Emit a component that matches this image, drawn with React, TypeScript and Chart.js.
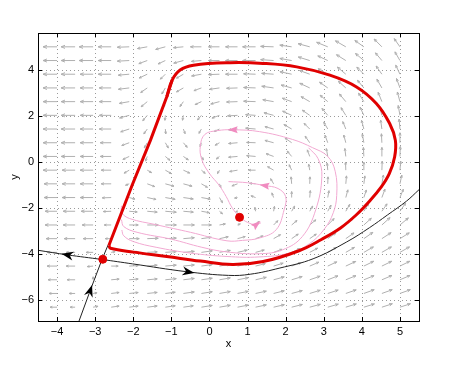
import React, { useEffect, useRef } from 'react';
import { Chart, registerables } from 'chart.js';
Chart.register(...registerables);

const xTicks = [-4, -3, -2, -1, 0, 1, 2, 3, 4, 5];
const yTicks = [-6, -4, -2, 0, 2, 4];

const gridX = [-4, -3.526, -3.053, -2.579, -2.105, -1.632, -1.158, -0.684, -0.211, 0.263, 0.737, 1.211, 1.684, 2.158, 2.632, 3.105, 3.579, 4.053, 4.526, 5.0];
const gridY = [5.0, 4.405, 3.811, 3.216, 2.621, 2.026, 1.432, 0.837, 0.242, -0.353, -0.947, -1.542, -2.137, -2.732, -3.326, -3.921, -4.516, -5.111, -5.705, -6.3];

// direction of each field arrow (degrees, 0 = right, 90 = up), rows top to bottom
const fieldAngle = [
  [180, 180, 180, 180, 182, 190, 195, 185, 180, 180, 180, 180, 178, 172, 165, 158, 150, 145, 135, 125],
  [180, 180, 180, 180, 183, 200, 205, 195, 185, 180, 180, 180, 176, 170, 163, 155, 148, 140, 130, 120],
  [180, 180, 180, 180, 185, 205, 225, 210, 190, 182, 180, 178, 176, 168, 160, 150, 140, 135, 125, 115],
  [180, 180, 180, 180, 187, 215, 240, 210, 200, 188, 182, 178, 172, 165, 155, 145, 138, 130, 120, 110],
  [180, 180, 180, 180, 190, 220, 250, 235, 205, 195, 182, 178, 170, 160, 150, 140, 130, 122, 112, 105],
  [180, 180, 180, 180, 195, 230, 265, 260, 230, 200, 183, 176, 165, 155, 145, 130, 122, 115, 105, 100],
  [180, 180, 180, 180, 198, 235, 275, 290, 240, 205, 185, 175, 165, 150, 135, 120, 112, 105, 98, 95],
  [180, 180, 180, 180, 200, 240, 300, 310, 250, 210, 185, 178, 165, 145, 125, 110, 105, 100, 93, 90],
  [180, 180, 180, 180, 205, 250, 320, 325, 300, 220, 185, 175, 160, 130, 110, 100, 97, 93, 90, 88],
  [180, 180, 180, 180, 210, 330, 330, 335, 320, 240, 190, 180, 150, 115, 100, 95, 92, 90, 88, 85],
  [180, 180, 180, 180, 200, 340, 345, 345, 330, 290, 200, 175, 120, 95, 88, 88, 85, 83, 80, 78],
  [180, 180, 180, 182, 345, 348, 350, 352, 350, 300, 190, 160, 110, 90, 85, 80, 75, 72, 70, 68],
  [180, 180, 180, 182, 355, 355, 355, 355, 350, 320, 200, 100, 80, 60, 60, 62, 60, 58, 55, 55],
  [180, 180, 180, 180, 0, 0, 0, 0, 0, 10, 20, 45, 45, 40, 40, 45, 45, 42, 42, 40],
  [180, 180, 180, 180, 0, 2, 3, 5, 8, 12, 15, 20, 30, 35, 35, 35, 35, 35, 33, 32],
  [180, 180, 180, 10, 3, 3, 4, 5, 8, 10, 13, 15, 20, 25, 28, 30, 30, 30, 30, 30],
  [180, 180, 185, 0, 3, 5, 5, 6, 8, 10, 12, 14, 17, 20, 23, 25, 25, 26, 26, 26],
  [180, 180, 90, 5, 5, 5, 6, 7, 8, 10, 11, 13, 15, 17, 19, 21, 22, 22, 23, 23],
  [180, 180, 10, 7, 6, 6, 7, 8, 9, 10, 11, 12, 14, 15, 17, 18, 19, 20, 20, 20],
  [180, 180, 10, 8, 7, 7, 8, 8, 9, 10, 11, 12, 13, 14, 15, 16, 17, 17, 18, 18],
];
// relative length of each field arrow (14 = longest)
const fieldLen = [
  [14, 14, 14, 13, 12, 10, 10, 10, 11, 11, 12, 13, 13, 12, 12, 12, 12, 11, 11, 10],
  [14, 14, 14, 13, 12, 9, 8, 10, 10, 11, 12, 13, 13, 12, 12, 11, 11, 11, 10, 10],
  [14, 14, 13, 13, 11, 9, 7, 8, 10, 11, 12, 12, 12, 12, 11, 11, 11, 10, 10, 10],
  [14, 14, 13, 12, 11, 8, 7, 8, 8, 10, 11, 12, 12, 11, 11, 10, 10, 10, 10, 10],
  [14, 14, 13, 12, 10, 8, 6, 6, 7, 9, 11, 12, 11, 10, 10, 10, 10, 10, 10, 10],
  [14, 14, 13, 12, 10, 7, 5, 5, 6, 8, 10, 10, 10, 10, 9, 9, 9, 9, 9, 10],
  [14, 14, 13, 12, 9, 6, 5, 5, 5, 6, 9, 10, 9, 9, 8, 8, 8, 9, 9, 10],
  [14, 14, 13, 11, 8, 6, 6, 6, 4, 5, 9, 9, 9, 8, 8, 8, 8, 9, 9, 10],
  [14, 14, 13, 11, 7, 5, 6, 6, 4, 4, 9, 9, 8, 7, 7, 8, 8, 9, 9, 10],
  [14, 13, 13, 10, 6, 5, 7, 7, 5, 4, 8, 7, 7, 6, 6, 7, 8, 8, 9, 9],
  [13, 13, 13, 10, 4, 8, 9, 9, 7, 4, 6, 6, 6, 7, 7, 7, 8, 8, 9, 9],
  [13, 13, 13, 9, 6, 9, 10, 10, 9, 6, 3, 5, 5, 6, 7, 7, 8, 8, 9, 9],
  [12, 12, 12, 8, 8, 10, 11, 10, 8, 4, 2, 4, 5, 6, 6, 7, 8, 9, 9, 10],
  [12, 12, 11, 7, 9, 11, 11, 11, 10, 6, 3, 5, 6, 7, 8, 9, 10, 10, 11, 11],
  [11, 11, 10, 6, 10, 11, 11, 11, 10, 9, 8, 8, 8, 8, 8, 10, 10, 11, 11, 11],
  [10, 9, 7, 4, 9, 10, 11, 11, 11, 11, 10, 9, 9, 9, 9, 10, 10, 11, 11, 11],
  [10, 9, 6, 7, 9, 10, 11, 11, 11, 11, 11, 10, 10, 10, 10, 10, 11, 11, 11, 11],
  [9, 8, 3, 8, 9, 10, 11, 11, 11, 11, 11, 11, 11, 11, 11, 11, 11, 11, 11, 11],
  [8, 6, 4, 8, 9, 10, 10, 11, 11, 11, 11, 11, 11, 11, 11, 11, 11, 11, 11, 11],
  [7, 5, 5, 8, 9, 10, 10, 10, 11, 11, 11, 11, 11, 11, 11, 11, 11, 11, 11, 11],
];

const cycleSideX = [-2.64, -2.03, -1.55, -1.12, -0.98];
const cycleSideY = [-3.62, -1.01, 0.94, 2.83, 3.55];
const cycleX = [-1.12, -0.98, -0.77, -0.42, 0.54, 1.41, 2.29, 3.16, 3.86, 4.38, 4.73, 4.88, 4.86, 4.72, 4.5, 4.2, 3.85, 3.45, 2.95, 2.35, 1.41, 0.6, -0.24, -1.12, -1.99, -2.6, -2.64];
const cycleY = [2.83, 3.55, 3.99, 4.2, 4.31, 4.28, 4.13, 3.77, 3.26, 2.54, 1.67, 0.94, 0.22, -0.5, -1.1, -1.7, -2.3, -2.85, -3.35, -3.85, -4.32, -4.45, -4.3, -4.1, -3.91, -3.74, -3.62];

const stableX = [-3.43, -3.13, -2.82, -2.66];
const stableY = [-6.93, -5.58, -4.23, -3.6];
const unstableX = [-4.5, -3.73, -2.82, -2.02, -0.6, 0.5, 1.07, 1.85, 2.72, 3.6, 4.2, 4.67, 5.17, 5.5];
const unstableY = [-3.83, -4.03, -4.23, -4.42, -4.76, -4.92, -4.87, -4.6, -4.2, -3.47, -2.85, -2.3, -1.7, -1.2];

// pink trajectories inside the cycle
const pinkAX = [0.79, 0.6, 0.44, 0.25, 0.0, -0.2, -0.24, -0.12, 0.2, 0.61, 1.31, 2.18, 2.71, 3.1, 3.3, 3.34, 3.25, 3.02, 2.62, 2.1, 1.3, 0.46, -0.5, -1.4, -2.0, -2.25, -2.3];
const pinkAY = [-2.4, -2.0, -1.5, -1.0, -0.5, 0.1, 0.7, 1.2, 1.36, 1.4, 1.32, 0.98, 0.62, 0.25, -0.4, -1.45, -2.2, -2.9, -3.55, -3.95, -4.12, -4.1, -3.95, -3.7, -3.45, -3.2, -2.95];
const pinkBX = [2.6, 2.85, 2.95, 2.79, 2.44, 1.92, 1.31, 0.44, -0.2, -1.0, -1.9, -2.25, -2.31];
const pinkBY = [0.62, 0.15, -0.62, -2.07, -3.23, -3.81, -3.98, -3.9, -3.7, -3.35, -3.05, -2.8, -2.5];
const pinkCX = [0.5, 1.0, 1.44, 1.8, 2.0, 1.96, 1.75, 1.31, 0.87, 0.46, -0.5, -1.4, -2.1, -2.3, -2.31];
const pinkCY = [-0.85, -0.9, -1.02, -1.15, -1.5, -2.07, -2.94, -3.3, -3.4, -3.42, -3.05, -2.72, -2.45, -2.2, -1.9];
const pinkDX = [0.79, 1.0, 1.22, 1.35];
const pinkDY = [-2.4, -2.62, -2.72, -2.64];

const pinkHeadX = [0.61, 1.44, 1.24];
const pinkHeadY = [1.4, -1.02, -2.7];
const pinkHeadAngle = [180, 172, 40];
const blackHeadX = [-3.73, -0.55, -3.13];
const blackHeadY = [-4.03, -4.77, -5.58];
const blackHeadAngle = [168, -10, 72];

const eqX = [-2.8, 0.79];
const eqY = [-4.22, -2.4];

const zip = (xs: number[], ys: number[]) => xs.map((x, i) => ({ x, y: ys[i] }));

const drawHead = (ctx: CanvasRenderingContext2D, px: number, py: number, deg: number, len: number, wid: number, color: string, notch: number) => {
  const a = (deg * Math.PI) / 180;
  const ux = Math.cos(a), uy = -Math.sin(a);
  const nx = -uy, ny = ux;
  const tipX = px + ux * len * 0.5, tipY = py + uy * len * 0.5;
  const bx = px - ux * len * 0.5, by = py - uy * len * 0.5;
  ctx.beginPath();
  ctx.moveTo(tipX, tipY);
  ctx.lineTo(bx + nx * wid / 2, by + ny * wid / 2);
  ctx.lineTo(bx + ux * len * notch, by + uy * len * notch);
  ctx.lineTo(bx - nx * wid / 2, by - ny * wid / 2);
  ctx.closePath();
  ctx.fillStyle = color;
  ctx.fill();
};

const framePlugin = {
  id: 'frame',
  beforeDatasetsDraw(chart: any) {
    const { ctx, chartArea: ca, scales } = chart;
    const xs = scales.x, ys = scales.y;
    ctx.save();
    ctx.strokeStyle = '#9a9a9a';
    ctx.lineWidth = 1;
    ctx.setLineDash([1, 3]);
    xTicks.forEach((v) => {
      const p = Math.round(xs.getPixelForValue(v)) + 0.5;
      ctx.beginPath(); ctx.moveTo(p, ca.top); ctx.lineTo(p, ca.bottom); ctx.stroke();
    });
    yTicks.forEach((v) => {
      const p = Math.round(ys.getPixelForValue(v)) + 0.5;
      ctx.beginPath(); ctx.moveTo(ca.left, p); ctx.lineTo(ca.right, p); ctx.stroke();
    });
    ctx.setLineDash([]);
    ctx.strokeStyle = '#b0b0b0';
    ctx.lineWidth = 1;
    ctx.beginPath();
    ctx.rect(ca.left, ca.top, ca.right - ca.left, ca.bottom - ca.top);
    ctx.clip();
    gridY.forEach((gy, r) => {
      gridX.forEach((gx, k) => {
        const L = fieldLen[r][k];
        const a = (fieldAngle[r][k] * Math.PI) / 180;
        const x0 = xs.getPixelForValue(gx), y0 = ys.getPixelForValue(gy);
        const x1 = x0 + L * Math.cos(a), y1 = y0 - L * Math.sin(a);
        const h = Math.max(2.5, L * 0.3);
        ctx.beginPath();
        ctx.moveTo(x0, y0); ctx.lineTo(x1, y1);
        ctx.moveTo(x1 - h * Math.cos(a - 0.38), y1 + h * Math.sin(a - 0.38));
        ctx.lineTo(x1, y1);
        ctx.lineTo(x1 - h * Math.cos(a + 0.38), y1 + h * Math.sin(a + 0.38));
        ctx.stroke();
      });
    });
    ctx.restore();
  },
  afterDatasetsDraw(chart: any) {
    const { ctx, chartArea: ca, scales } = chart;
    const xs = scales.x, ys = scales.y;
    ctx.save();
    pinkHeadX.forEach((x, i) => drawHead(ctx, xs.getPixelForValue(x), ys.getPixelForValue(pinkHeadY[i]), pinkHeadAngle[i], 10, 7, '#f08cc0', 0.15));
    blackHeadX.forEach((x, i) => drawHead(ctx, xs.getPixelForValue(x), ys.getPixelForValue(blackHeadY[i]), blackHeadAngle[i], 12, 9, '#000000', 0.3));
    ctx.strokeStyle = '#000';
    ctx.lineWidth = 1;
    ctx.strokeRect(Math.round(ca.left) + 0.5, Math.round(ca.top) + 0.5, Math.round(ca.right - ca.left), Math.round(ca.bottom - ca.top));
    ctx.beginPath();
    xTicks.forEach((v) => {
      const p = Math.round(xs.getPixelForValue(v)) + 0.5;
      ctx.moveTo(p, ca.top); ctx.lineTo(p, ca.top + 4);
      ctx.moveTo(p, ca.bottom); ctx.lineTo(p, ca.bottom - 4);
    });
    yTicks.forEach((v) => {
      const p = Math.round(ys.getPixelForValue(v)) + 0.5;
      ctx.moveTo(ca.left, p); ctx.lineTo(ca.left + 4, p);
      ctx.moveTo(ca.right, p); ctx.lineTo(ca.right - 4, p);
    });
    ctx.stroke();
    ctx.fillStyle = '#000';
    ctx.font = '11px "Liberation Sans", Arial, sans-serif';
    ctx.textAlign = 'center';
    ctx.textBaseline = 'middle';
    ctx.fillText('x', (ca.left + ca.right) / 2, ca.bottom + 23);
    ctx.translate(ca.left - 23, (ca.top + ca.bottom) / 2);
    ctx.rotate(-Math.PI / 2);
    ctx.fillText('y', 0, 0);
    ctx.restore();
  },
};

const fmt = (v: number) => (v < 0 ? '\u2212' + Math.abs(v) : String(v));

export default function App() {
  const ref = useRef<HTMLCanvasElement>(null);
  useEffect(() => {
    if (!ref.current) return;
    const line = (data: any[], color: string, width: number, tension: number, order: number) => ({
      data, showLine: true, borderColor: color, borderWidth: width, pointRadius: 0, tension, order, fill: false,
    });
    const pink = '#f2a9d2';
    const chart = new Chart(ref.current, {
      type: 'scatter',
      data: {
        datasets: [
          { data: zip(eqX, eqY), pointRadius: 4, backgroundColor: '#e00000', borderColor: '#e00000', order: 0 } as any,
          line(zip(cycleSideX, cycleSideY), '#e00000', 3, 0, 1),
          line(zip(cycleX, cycleY), '#e00000', 3, 0.4, 1),
          line(zip(stableX, stableY), '#222222', 1, 0, 2),
          line(zip(unstableX, unstableY), '#222222', 1, 0.4, 2),
          line(zip(pinkAX, pinkAY), pink, 1, 0.4, 3),
          line(zip(pinkBX, pinkBY), pink, 1, 0.4, 3),
          line(zip(pinkCX, pinkCY), pink, 1, 0.4, 3),
          line(zip(pinkDX, pinkDY), pink, 1, 0.4, 3),
        ],
      },
      options: {
        animation: false,
        responsive: false,
        maintainAspectRatio: false,
        layout: { padding: { left: 0, top: 33, right: 42, bottom: 0 } },
        plugins: { legend: { display: false }, tooltip: { enabled: false } },
        events: [],
        scales: {
          x: {
            type: 'linear', min: -4.5, max: 5.5,
            grid: { display: false, drawTicks: false },
            border: { display: false },
            afterBuildTicks: (s: any) => { s.ticks = xTicks.map((value) => ({ value })); },
            afterFit: (s: any) => { s.height = 49; },
            ticks: { padding: 4, color: '#000', font: { size: 11, family: '"Liberation Sans", Arial, sans-serif' }, callback: (v: any) => fmt(Number(v)), maxRotation: 0, autoSkip: false },
          },
          y: {
            type: 'linear', min: -6.9, max: 5.6,
            grid: { display: false, drawTicks: false },
            border: { display: false },
            afterBuildTicks: (s: any) => { s.ticks = yTicks.map((value) => ({ value })); },
            afterFit: (s: any) => { s.width = 38; },
            ticks: { padding: 4, color: '#000', font: { size: 11, family: '"Liberation Sans", Arial, sans-serif' }, callback: (v: any) => fmt(Number(v)), autoSkip: false },
          },
        },
      },
      plugins: [framePlugin],
    });
    return () => chart.destroy();
  }, []);
  return (
    <div style={{ position: 'fixed', left: 0, top: 0, width: 461, height: 370, background: '#fff' }}>
      <canvas ref={ref} width={461} height={370} style={{ width: 461, height: 370 }} />
    </div>
  );
}
